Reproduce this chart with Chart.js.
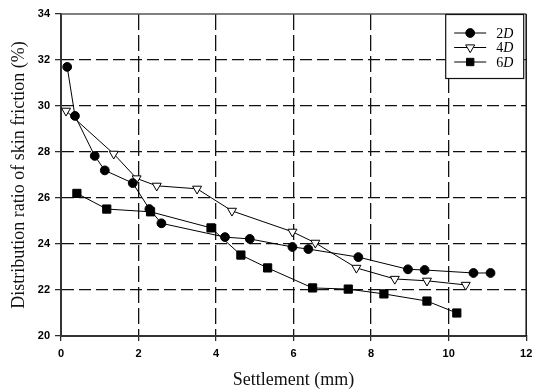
<!DOCTYPE html>
<html>
<head>
<meta charset="utf-8">
<script src="https://cdn.jsdelivr.net/npm/chart.js@4"></script>
<style>
  html, body { margin: 0; padding: 0; background: #fff; }
  #wrap { width: 533px; height: 389px; }
</style>
</head>
<body>
<div id="wrap"><canvas id="c" width="533" height="389"></canvas></div>
<script>
// Settlement (mm) and skin-friction distribution ratio (%) for each pile spacing
const seriesLabels = ['2D', '4D', '6D'];

const settlement2D = [0.16, 0.36, 0.87, 1.13, 1.85, 2.28, 2.59, 4.23, 4.87, 5.97, 6.38, 7.67, 8.95, 9.38, 10.64, 11.08];
const ratio2D      = [31.7, 29.57, 27.83, 27.2, 26.65, 25.52, 24.9, 24.3, 24.22, 23.87, 23.78, 23.43, 22.9, 22.87, 22.74, 22.74];

const settlement4D = [0.13, 1.36, 1.95, 2.47, 3.51, 4.41, 5.97, 6.56, 7.62, 8.61, 9.44, 10.44];
const ratio4D      = [29.79, 27.92, 26.85, 26.53, 26.4, 25.44, 24.53, 24.05, 22.96, 22.48, 22.4, 22.22];

const settlement6D = [0.41, 1.18, 2.31, 3.87, 4.64, 5.33, 6.49, 7.41, 8.33, 9.44, 10.21];
const ratio6D      = [26.2, 25.52, 25.4, 24.7, 23.52, 22.96, 22.09, 22.04, 21.83, 21.52, 21.0];

const xTicks = [0, 2, 4, 6, 8, 10, 12];
const yTicks = [20, 22, 24, 26, 28, 30, 32, 34];

const toPoints = (xs, ys) => xs.map((x, i) => ({ x: x, y: ys[i] }));

const markerStyles = [
  { pointStyle: 'circle',   pointRadius: 4.4, pointRotation: 0,   pointBackgroundColor: '#000' },
  { pointStyle: 'triangle', pointRadius: 5.2, pointRotation: 180, pointBackgroundColor: '#fff' },
  { pointStyle: 'rect',     pointRadius: 5.8, pointRotation: 0,   pointBackgroundColor: '#000' }
];

const seriesData = [
  toPoints(settlement2D, ratio2D),
  toPoints(settlement4D, ratio4D),
  toPoints(settlement6D, ratio6D)
];

const datasets = seriesData.map((pts, i) => Object.assign({
  label: seriesLabels[i],
  data: pts,
  showLine: true,
  tension: 0,
  borderColor: '#000',
  borderWidth: 1,
  pointBorderColor: '#000',
  pointBorderWidth: 1
}, markerStyles[i]));

const gridColor = (edgeValues) => (ctx) =>
  (ctx.tick && edgeValues.includes(ctx.tick.value)) ? 'rgba(0,0,0,0)' : '#111';

// Frame on the top and right of the plotting area
const framePlugin = {
  id: 'frame',
  beforeDatasetsDraw(chart) {
    const { ctx, chartArea: a } = chart;
    ctx.save();
    ctx.lineWidth = 1.5;
    ctx.strokeStyle = '#555';
    ctx.beginPath();
    ctx.moveTo(a.left, a.top);
    ctx.lineTo(a.right, a.top);
    ctx.stroke();
    ctx.strokeStyle = '#111';
    ctx.beginPath();
    ctx.moveTo(a.right, a.top);
    ctx.lineTo(a.right, a.bottom);
    ctx.stroke();
    ctx.restore();
  }
};

// Boxed legend in the top-right corner, label digits upright and "D" italic
const legendBoxPlugin = {
  id: 'legendBox',
  afterDatasetsDraw(chart) {
    const { ctx, chartArea: a } = chart;
    const w = 79, h = 65;
    const left = a.right - 2 - w, top = a.top;
    ctx.save();
    ctx.fillStyle = '#fff';
    ctx.fillRect(left, top, w, h);
    ctx.strokeStyle = '#111';
    ctx.lineWidth = 1.2;
    ctx.strokeRect(left + 0.5, top + 0.5, w - 1, h - 1);
    chart.data.datasets.forEach((ds, i) => {
      const y = top + 19 + i * 14.5;
      ctx.strokeStyle = '#000';
      ctx.lineWidth = 1;
      ctx.beginPath();
      ctx.moveTo(left + 9, y);
      ctx.lineTo(left + 41, y);
      ctx.stroke();
      ctx.fillStyle = ds.pointBackgroundColor;
      ctx.strokeStyle = '#000';
      const r = ds.pointStyle === 'rect' ? 5.2 : ds.pointRadius;
      Chart.helpers.drawPoint(ctx, { pointStyle: ds.pointStyle, rotation: ds.pointRotation, radius: r, borderWidth: 1 }, left + 25, y);
      const digits = ds.label.replace(/D$/, '');
      ctx.fillStyle = '#000';
      ctx.textBaseline = 'middle';
      ctx.textAlign = 'left';
      ctx.font = '14px "Liberation Serif"';
      ctx.fillText(digits, left + 51, y + 1);
      const dw = ctx.measureText(digits).width;
      ctx.font = 'italic 14px "Liberation Serif"';
      ctx.fillText('D', left + 51 + dw, y + 1);
    });
    ctx.restore();
  }
};

new Chart(document.getElementById('c'), {
  type: 'scatter',
  data: { datasets: datasets },
  options: {
    responsive: false,
    animation: false,
    devicePixelRatio: 1,
    layout: { padding: { top: 14, right: 0, left: 0, bottom: 0 } },
    plugins: {
      legend: { display: false },
      tooltip: { enabled: false }
    },
    scales: {
      x: {
        type: 'linear',
        min: xTicks[0],
        max: xTicks[xTicks.length - 1],
        afterBuildTicks: (s) => { s.ticks = xTicks.map(v => ({ value: v })); },
        afterFit: (s) => { s.height = 53; s.paddingRight = 6; },
        ticks: {
          color: '#000',
          padding: 6,
          font: { family: '"Liberation Sans", Arial, sans-serif', size: 11, weight: 'bold' }
        },
        grid: {
          color: gridColor([xTicks[0], xTicks[xTicks.length - 1]]),
          lineWidth: 1.3,
          tickLength: 5,
          tickColor: '#222',
          tickWidth: 1.2
        },
        border: { display: true, color: '#333', width: 2, dash: [16, 5] },
        title: {
          display: true,
          text: 'Settlement (mm)',
          color: '#111',
          padding: { top: 0, bottom: 0 },
          font: { family: '"Liberation Serif", "Times New Roman", serif', size: 18, lineHeight: 1 }
        }
      },
      y: {
        type: 'linear',
        min: yTicks[0],
        max: yTicks[yTicks.length - 1],
        afterBuildTicks: (s) => { s.ticks = yTicks.map(v => ({ value: v })); },
        afterFit: (s) => { s.width = 61; },
        ticks: {
          color: '#000',
          padding: 5,
          font: { family: '"Liberation Sans", Arial, sans-serif', size: 11, weight: 'bold' }
        },
        grid: {
          color: gridColor([yTicks[0], yTicks[yTicks.length - 1]]),
          lineWidth: 1.3,
          tickLength: 6,
          tickColor: '#222',
          tickWidth: 1.2
        },
        border: { display: true, color: '#333', width: 2, dash: [12, 5] },
        title: {
          display: true,
          text: 'Distribution ratio of skin friction (%)',
          color: '#111',
          padding: { top: 10, bottom: 0 },
          font: { family: '"Liberation Serif", "Times New Roman", serif', size: 18, lineHeight: 1 }
        }
      }
    }
  },
  plugins: [framePlugin, legendBoxPlugin]
});
</script>
</body>
</html>
